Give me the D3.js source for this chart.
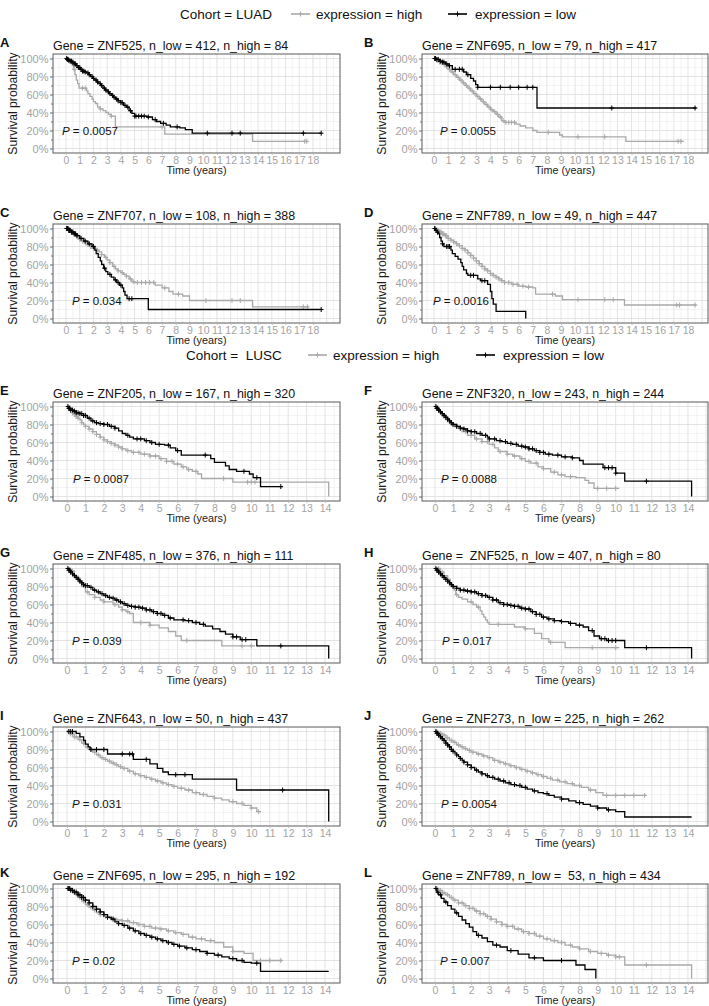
<!DOCTYPE html>
<html><head><meta charset="utf-8">
<script src="https://cdn.jsdelivr.net/npm/d3@7"></script>
<style>
body{margin:0;background:#fff;}
svg text{font-family:"Liberation Sans",Arial,Helvetica,sans-serif;}
</style></head><body>
<svg id="chart" width="709" height="1006" xmlns="http://www.w3.org/2000/svg"></svg>
<script>
// ---------------- DATA ----------------
const cohorts = ["LUAD", "LUSC"];
const panelIds = ["A","B","C","D","E","F","G","H","I","J","K","L"];
const titles = [
 "Gene = ZNF525, n_low = 412, n_high = 84",
 "Gene = ZNF695, n_low = 79, n_high = 417",
 "Gene = ZNF707, n_low = 108, n_high = 388",
 "Gene = ZNF789, n_low = 49, n_high = 447",
 "Gene = ZNF205, n_low = 167, n_high = 320",
 "Gene = ZNF320, n_low = 243, n_high = 244",
 "Gene = ZNF485, n_low = 376, n_high = 111",
 "Gene =  ZNF525, n_low = 407, n_high = 80",
 "Gene = ZNF643, n_low = 50, n_high = 437",
 "Gene = ZNF273, n_low = 225, n_high = 262",
 "Gene = ZNF695, n_low = 295, n_high = 192",
 "Gene = ZNF789, n_low =  53, n_high = 434"
];
const pValues = ["0.0057","0.0055","0.034","0.0016","0.0087","0.0088","0.039","0.017","0.031","0.0054","0.02","0.007"];
const luadTicks = [0,1,2,3,4,5,6,7,8,9,10,11,12,13,14,15,16,17,18];
const luscTicks = [0,1,2,3,4,5,6,7,8,9,10,11,12,13,14];
const yTicks = [0,0.2,0.4,0.6,0.8,1];

// Kaplan-Meier steps [time (years), survival]
const A_low = [[0,1],[0.1,0.99],[0.2,0.98],[0.3,0.97],[0.45,0.96],[0.6,0.94],[0.75,0.92],[0.9,0.90],[1.05,0.88],[1.2,0.86],[1.35,0.85],[1.5,0.84],[1.65,0.82],[1.8,0.80],[1.95,0.78],[2.1,0.76],[2.25,0.74],[2.4,0.72],[2.55,0.70],[2.7,0.67],[2.85,0.65],[3.0,0.63],[3.15,0.61],[3.3,0.59],[3.45,0.57],[3.6,0.55],[3.8,0.53],[4.0,0.51],[4.2,0.48],[4.4,0.46],[4.6,0.42],[4.8,0.39],[5.0,0.36],[5.9,0.35],[6.3,0.32],[6.6,0.30],[6.9,0.28],[7.3,0.26],[7.6,0.24],[8.3,0.23],[8.7,0.21],[9.2,0.17],[18.6,0.17]];
const A_lowC = [0.05,0.1,0.15,0.2,0.3,0.4,0.5,0.6,0.7,0.8,0.9,1.0,1.1,1.2,1.3,1.4,1.6,1.7,1.9,2.0,2.2,2.3,2.5,2.6,2.8,2.9,3.1,3.2,3.4,3.5,3.7,3.8,4.0,4.1,4.3,4.5,4.7,5.0,5.1,5.3,5.5,5.7,6.0,6.5,7.1,8.1,10.3,12.1,12.7,17.3,18.6];
const A_high = [[0,1],[0.2,0.98],[0.35,0.95],[0.45,0.92],[0.55,0.88],[0.65,0.82],[0.75,0.76],[0.85,0.72],[0.95,0.67],[1.5,0.64],[1.6,0.61],[1.75,0.58],[1.9,0.55],[2.0,0.52],[2.15,0.50],[2.3,0.46],[2.5,0.44],[2.7,0.42],[2.9,0.40],[3.1,0.38],[3.3,0.36],[3.6,0.24],[7.2,0.16],[13.6,0.08],[17.6,0.08]];
const A_highC = [0.3,0.6,1.2,1.4,2.5,3.3,7.0,17.4,17.55];

const B_low = [[0,1],[0.2,0.99],[0.4,0.97],[0.6,0.96],[0.8,0.94],[1.0,0.92],[1.3,0.88],[2.1,0.85],[2.3,0.82],[2.6,0.78],[2.8,0.75],[2.95,0.71],[3.1,0.68],[7.3,0.45],[18.6,0.45]];
const B_lowC = [0.05,0.1,0.2,0.3,0.45,0.6,0.7,0.9,1.1,1.5,1.8,2.0,2.4,3.1,4.0,4.7,5.4,6.0,6.6,7.0,12.6,18.5];
const B_high = [[0,1],[0.2,0.98],[0.4,0.96],[0.6,0.94],[0.8,0.91],[1.0,0.88],[1.2,0.85],[1.4,0.82],[1.6,0.79],[1.8,0.76],[2.0,0.73],[2.2,0.70],[2.4,0.67],[2.6,0.64],[2.8,0.61],[3.0,0.58],[3.2,0.55],[3.4,0.52],[3.6,0.49],[3.8,0.46],[4.0,0.43],[4.2,0.41],[4.4,0.38],[4.6,0.35],[4.8,0.31],[5.0,0.29],[5.8,0.27],[6.1,0.25],[6.5,0.23],[7.0,0.20],[7.3,0.18],[8.9,0.15],[9.1,0.13],[13.6,0.08],[17.7,0.08]];
const B_highC = [0.1,0.2,0.3,0.4,0.5,0.7,0.9,1.1,1.3,1.5,1.7,1.9,2.1,2.3,2.5,2.7,2.9,3.1,3.3,3.5,3.7,3.9,4.1,4.3,4.5,4.7,4.9,5.1,5.3,5.5,5.7,8.1,10.2,12.1,17.3,17.5];

const C_low = [[0,1],[0.2,0.98],[0.4,0.96],[0.6,0.94],[0.8,0.92],[1.0,0.89],[1.3,0.86],[1.6,0.83],[1.9,0.80],[2.1,0.76],[2.2,0.72],[2.35,0.68],[2.5,0.64],[2.6,0.60],[2.75,0.56],[2.9,0.52],[3.05,0.49],[3.3,0.46],[3.5,0.43],[3.7,0.40],[3.9,0.37],[4.1,0.34],[4.2,0.30],[4.3,0.26],[4.45,0.22],[6.0,0.10],[18.6,0.10]];
const C_lowC = [0.05,0.1,0.15,0.2,0.25,0.3,0.4,0.5,0.6,0.7,0.8,1.1,1.4,1.7,2.0,2.8,3.2,3.6,3.8,4.0,4.6,4.8,18.6];
const C_high = [[0,1],[0.2,0.98],[0.4,0.96],[0.6,0.94],[0.8,0.91],[1.0,0.88],[1.2,0.86],[1.4,0.84],[1.6,0.82],[1.8,0.80],[2.0,0.78],[2.2,0.76],[2.4,0.74],[2.6,0.71],[2.8,0.68],[3.0,0.65],[3.2,0.62],[3.4,0.58],[3.6,0.55],[3.8,0.53],[4.0,0.51],[4.2,0.49],[4.4,0.47],[4.6,0.44],[4.8,0.41],[5.0,0.40],[6.5,0.37],[7.0,0.34],[7.5,0.30],[7.8,0.27],[8.5,0.25],[9.0,0.20],[13.6,0.13],[17.7,0.13]];
const C_highC = [0.1,0.2,0.3,0.4,0.5,0.6,0.7,0.8,0.9,1.0,1.2,1.4,1.6,1.8,2.0,2.3,2.6,2.9,3.2,3.5,3.8,4.1,4.4,4.7,4.9,5.2,5.5,5.8,6.1,6.4,7.2,8.2,10.2,12.1,12.7,17.3,17.6];

const D_low = [[0,1],[0.1,0.98],[0.2,0.96],[0.3,0.94],[0.4,0.90],[0.5,0.86],[0.6,0.83],[0.7,0.80],[1.2,0.76],[1.3,0.72],[1.5,0.69],[1.7,0.66],[1.9,0.62],[2.0,0.58],[2.1,0.54],[2.3,0.50],[2.4,0.48],[3.1,0.44],[3.3,0.42],[3.8,0.38],[4.0,0.30],[4.1,0.22],[4.2,0.16],[4.4,0.08],[6.5,0.08],[6.5,0]];
const D_lowC = [0.05,0.15,0.25,0.6,0.9,1.0,1.1,2.6,2.8,3.4,3.6];
const D_high = [[0,1],[0.2,0.98],[0.4,0.96],[0.6,0.94],[0.8,0.92],[1.0,0.89],[1.2,0.87],[1.4,0.85],[1.6,0.83],[1.8,0.81],[2.0,0.78],[2.2,0.76],[2.4,0.73],[2.6,0.70],[2.8,0.67],[3.0,0.64],[3.2,0.61],[3.4,0.58],[3.6,0.55],[3.8,0.53],[4.0,0.50],[4.2,0.48],[4.4,0.46],[4.6,0.44],[4.8,0.42],[5.0,0.40],[5.5,0.38],[6.0,0.36],[6.5,0.35],[7.0,0.34],[7.2,0.27],[8.6,0.25],[9.1,0.21],[13.5,0.15],[18.6,0.15]];
const D_highC = [0.1,0.2,0.3,0.4,0.5,0.6,0.7,0.8,0.9,1.0,1.2,1.4,1.6,1.8,2.0,2.2,2.4,2.6,2.8,3.0,3.2,3.4,3.6,3.8,4.0,4.2,4.4,4.6,4.8,5.0,5.3,5.6,5.9,6.3,6.7,8.4,10.2,12.1,12.7,17.2,17.4,18.5];

const E_low = [[0,1],[0.1,0.98],[0.2,0.96],[0.35,0.95],[0.5,0.93],[0.7,0.92],[0.9,0.90],[1.1,0.87],[1.3,0.84],[1.5,0.82],[1.7,0.81],[2.0,0.80],[2.3,0.78],[2.6,0.76],[2.8,0.73],[3.0,0.70],[3.2,0.68],[3.4,0.66],[3.6,0.64],[4.2,0.62],[4.5,0.60],[4.8,0.58],[5.3,0.57],[5.6,0.54],[5.9,0.51],[6.2,0.46],[7.8,0.42],[8.0,0.38],[8.6,0.34],[8.8,0.30],[9.2,0.28],[9.9,0.25],[10.1,0.21],[10.5,0.11],[11.7,0.11]];
const E_lowC = [0.05,0.1,0.15,0.2,0.3,0.4,0.5,0.6,0.7,0.8,0.9,1.0,1.2,1.4,1.6,1.8,2.0,2.2,2.4,2.6,3.3,3.8,4.0,4.3,4.6,5.0,5.5,6.0,7.5,9.6,10.3,11.6];
const E_high = [[0,1],[0.1,0.98],[0.2,0.96],[0.3,0.93],[0.4,0.91],[0.5,0.89],[0.6,0.87],[0.7,0.85],[0.8,0.82],[0.9,0.80],[1.0,0.78],[1.2,0.75],[1.4,0.72],[1.6,0.69],[1.8,0.66],[2.0,0.63],[2.2,0.61],[2.4,0.59],[2.6,0.57],[2.8,0.55],[3.0,0.53],[3.2,0.51],[3.5,0.49],[4.0,0.47],[4.5,0.45],[5.0,0.42],[5.4,0.39],[5.8,0.36],[6.2,0.33],[6.5,0.30],[6.8,0.28],[7.1,0.25],[7.3,0.20],[9.0,0.16],[14.2,0.16],[14.2,0]];
const E_highC = [0.1,0.2,0.3,0.4,0.5,0.6,0.8,1.0,1.2,1.4,1.6,1.8,2.0,2.2,2.4,2.6,2.8,3.0,3.3,3.6,3.9,4.2,4.5,4.8,5.1,5.4,5.7,6.0,6.3,6.6,7.0,8.5,9.8,10.0,10.2];

const F_low = [[0,1],[0.1,0.98],[0.2,0.96],[0.3,0.94],[0.4,0.92],[0.5,0.90],[0.6,0.88],[0.7,0.86],[0.8,0.84],[0.9,0.82],[1.0,0.80],[1.2,0.78],[1.4,0.76],[1.6,0.75],[1.8,0.73],[2.0,0.72],[2.3,0.70],[2.6,0.68],[2.9,0.66],[3.0,0.64],[3.4,0.62],[3.7,0.61],[4.0,0.59],[4.3,0.58],[4.6,0.56],[4.9,0.55],[5.2,0.53],[5.5,0.51],[5.8,0.49],[6.1,0.47],[6.5,0.46],[7.0,0.44],[7.6,0.43],[8.0,0.40],[8.2,0.36],[9.3,0.32],[10.0,0.26],[10.5,0.17],[14.2,0.17],[14.2,0]];
const F_lowC = [0.05,0.1,0.15,0.2,0.3,0.4,0.5,0.6,0.7,0.8,0.9,1.0,1.2,1.4,1.6,1.8,2.0,2.2,2.5,2.8,3.0,3.3,3.6,3.9,4.2,4.5,4.8,5.0,5.2,5.4,5.6,5.8,6.0,6.3,6.8,7.2,7.6,9.4,9.6,9.8,10.0,11.7];
const F_high = [[0,1],[0.1,0.98],[0.2,0.96],[0.3,0.94],[0.4,0.92],[0.5,0.89],[0.6,0.87],[0.7,0.85],[0.8,0.83],[0.9,0.81],[1.0,0.79],[1.2,0.76],[1.5,0.72],[1.8,0.68],[2.2,0.64],[2.6,0.61],[3.0,0.58],[3.3,0.54],[3.5,0.50],[4.0,0.47],[4.3,0.45],[4.7,0.42],[5.0,0.39],[5.3,0.37],[5.7,0.33],[6.0,0.31],[6.4,0.27],[6.8,0.24],[7.2,0.22],[7.8,0.21],[8.3,0.18],[8.5,0.15],[8.8,0.09],[10.2,0.09]];
const F_highC = [0.1,0.2,0.3,0.5,0.7,0.9,1.1,1.4,1.7,2.0,2.3,2.6,2.9,3.2,3.6,4.0,4.4,4.8,5.2,5.6,6.0,6.6,7.0,7.5,9.0,9.5,10.0];

const G_low = [[0,1],[0.1,0.98],[0.2,0.96],[0.3,0.94],[0.4,0.92],[0.5,0.90],[0.6,0.88],[0.7,0.86],[0.8,0.84],[0.9,0.82],[1.0,0.81],[1.2,0.79],[1.4,0.76],[1.6,0.74],[1.8,0.72],[2.0,0.70],[2.2,0.68],[2.4,0.67],[2.6,0.65],[2.8,0.63],[3.0,0.61],[3.2,0.59],[3.4,0.58],[3.7,0.57],[4.0,0.56],[4.3,0.54],[4.6,0.52],[4.9,0.50],[5.2,0.48],[5.5,0.45],[5.8,0.43],[6.4,0.42],[6.8,0.40],[7.2,0.38],[7.5,0.36],[7.9,0.33],[8.3,0.30],[8.6,0.27],[9.0,0.24],[9.4,0.21],[10.3,0.14],[14.2,0.14],[14.2,0]];
const G_lowC = [0.05,0.1,0.15,0.2,0.3,0.4,0.5,0.6,0.7,0.8,0.9,1.0,1.1,1.3,1.5,1.7,1.9,2.1,2.3,2.5,2.7,2.9,3.1,3.3,3.5,3.7,3.9,4.1,4.3,4.5,4.7,4.9,5.1,5.3,5.6,6.3,6.6,7.0,7.4,9.0,9.2,9.5,9.7,11.6];
const G_high = [[0,1],[0.2,0.97],[0.4,0.93],[0.5,0.90],[0.65,0.85],[0.8,0.80],[1.0,0.74],[1.2,0.71],[1.5,0.68],[1.8,0.65],[2.0,0.63],[2.5,0.60],[2.8,0.57],[3.0,0.54],[3.2,0.52],[3.4,0.50],[3.6,0.40],[4.5,0.37],[5.0,0.34],[5.5,0.30],[5.9,0.25],[6.2,0.20],[8.4,0.14],[10.2,0.14]];
const G_highC = [0.3,0.6,1.1,1.5,2.0,2.6,3.0,3.3,4.0,4.5,6.5,9.5,10.0];

const H_low = [[0,1],[0.1,0.98],[0.2,0.96],[0.3,0.94],[0.4,0.92],[0.5,0.90],[0.6,0.88],[0.7,0.86],[0.8,0.84],[0.9,0.82],[1.0,0.80],[1.2,0.78],[1.4,0.76],[1.7,0.75],[2.0,0.74],[2.3,0.72],[2.6,0.70],[2.9,0.68],[3.2,0.65],[3.5,0.62],[3.8,0.60],[4.1,0.59],[4.4,0.58],[4.7,0.56],[5.0,0.55],[5.3,0.52],[5.6,0.49],[5.9,0.46],[6.2,0.44],[6.6,0.42],[7.0,0.41],[7.4,0.39],[7.8,0.37],[8.2,0.35],[8.5,0.31],[8.8,0.25],[9.1,0.22],[9.5,0.20],[10.5,0.12],[14.2,0.12],[14.2,0]];
const H_lowC = [0.05,0.1,0.15,0.2,0.3,0.4,0.5,0.6,0.7,0.8,0.9,1.0,1.2,1.4,1.6,1.8,2.0,2.2,2.4,2.6,2.8,3.0,3.2,3.4,3.6,3.8,4.0,4.2,4.4,4.6,4.8,5.0,5.2,5.4,5.6,5.8,6.0,6.3,6.6,7.0,7.5,8.0,8.7,9.2,9.4,9.6,9.8,10.0,11.7];
const H_high = [[0,1],[0.3,0.96],[0.5,0.92],[0.7,0.88],[0.85,0.84],[0.95,0.80],[1.05,0.76],[1.15,0.71],[1.3,0.68],[1.5,0.66],[1.8,0.63],[2.1,0.60],[2.3,0.57],[2.5,0.53],[2.6,0.49],[2.7,0.46],[2.8,0.43],[2.9,0.40],[3.0,0.38],[4.4,0.35],[5.0,0.33],[5.5,0.28],[5.9,0.22],[6.3,0.18],[7.2,0.12],[10.2,0.12]];
const H_highC = [0.2,0.4,1.2,2.0,2.4,3.5,5.0,6.4,8.7,10.0];

const I_low = [[0,1],[0.5,0.98],[0.7,0.94],[0.9,0.90],[1.0,0.86],[1.15,0.83],[1.25,0.80],[2.2,0.75],[3.6,0.69],[4.5,0.64],[4.9,0.59],[5.2,0.55],[5.5,0.52],[6.8,0.47],[9.2,0.35],[14.2,0.35],[14.2,0]];
const I_lowC = [0.1,0.2,0.3,1.3,1.6,2.0,3.0,3.4,3.55,4.3,5.9,6.4,11.7];
const I_high = [[0,1],[0.2,0.97],[0.4,0.94],[0.6,0.91],[0.8,0.87],[1.0,0.83],[1.2,0.80],[1.4,0.77],[1.6,0.74],[1.8,0.71],[2.0,0.69],[2.2,0.67],[2.4,0.65],[2.6,0.63],[2.8,0.61],[3.0,0.59],[3.3,0.56],[3.6,0.53],[3.9,0.51],[4.2,0.49],[4.5,0.47],[4.8,0.45],[5.1,0.43],[5.4,0.41],[5.7,0.39],[6.0,0.37],[6.4,0.35],[6.8,0.32],[7.2,0.30],[7.6,0.28],[8.0,0.26],[8.4,0.24],[8.8,0.22],[9.2,0.20],[9.6,0.18],[10.0,0.15],[10.3,0.11],[10.5,0.11]];
const I_highC = [0.1,0.2,0.3,0.4,0.5,0.7,0.9,1.1,1.3,1.5,1.7,1.9,2.1,2.3,2.5,2.7,2.9,3.1,3.4,3.7,4.0,4.3,4.6,4.9,5.2,5.5,5.8,6.2,6.6,7.0,7.4,8.0,9.0,9.5,10.0,10.4];

const J_low = [[0,1],[0.1,0.98],[0.2,0.96],[0.3,0.94],[0.4,0.92],[0.5,0.90],[0.6,0.87],[0.7,0.85],[0.8,0.83],[0.9,0.80],[1.0,0.78],[1.1,0.76],[1.2,0.74],[1.3,0.72],[1.4,0.70],[1.5,0.68],[1.6,0.66],[1.8,0.63],[2.0,0.60],[2.2,0.57],[2.4,0.55],[2.6,0.53],[2.8,0.51],[3.0,0.49],[3.3,0.47],[3.6,0.45],[3.9,0.43],[4.2,0.41],[4.5,0.40],[4.8,0.38],[5.1,0.36],[5.4,0.34],[5.7,0.32],[6.0,0.31],[6.3,0.29],[6.6,0.27],[7.0,0.25],[7.4,0.23],[7.8,0.21],[8.2,0.19],[8.6,0.17],[9.0,0.15],[9.5,0.13],[10.0,0.11],[10.5,0.05],[14.2,0.05]];
const J_lowC = [0.05,0.1,0.15,0.2,0.3,0.4,0.5,0.6,0.7,0.8,0.9,1.0,1.2,1.4,1.6,1.8,2.0,2.3,2.6,2.9,3.2,3.5,3.8,4.1,4.4,4.7,5.0,5.5,6.2,7.0,8.0,9.0,9.6];
const J_high = [[0,1],[0.2,0.98],[0.4,0.96],[0.6,0.93],[0.8,0.90],[1.0,0.88],[1.2,0.85],[1.4,0.83],[1.6,0.81],[1.8,0.79],[2.0,0.77],[2.3,0.75],[2.6,0.73],[2.9,0.71],[3.2,0.68],[3.5,0.66],[3.8,0.64],[4.1,0.62],[4.4,0.60],[4.7,0.58],[5.0,0.56],[5.3,0.54],[5.6,0.52],[5.9,0.50],[6.2,0.48],[6.5,0.46],[6.9,0.44],[7.3,0.42],[7.7,0.40],[8.1,0.38],[8.5,0.35],[8.9,0.32],[9.3,0.29],[11.7,0.29]];
const J_highC = [0.1,0.2,0.3,0.4,0.5,0.7,0.9,1.1,1.3,1.5,1.7,1.9,2.1,2.4,2.7,3.0,3.3,3.6,3.9,4.2,4.5,4.8,5.1,5.4,5.7,6.0,6.4,6.8,7.2,7.6,8.0,8.6,9.5,10.0,10.5,11.0,11.6];

const K_low = [[0,1],[0.2,0.98],[0.4,0.96],[0.6,0.93],[0.8,0.90],[1.0,0.87],[1.2,0.84],[1.4,0.80],[1.6,0.77],[1.8,0.74],[2.0,0.71],[2.2,0.68],[2.4,0.66],[2.6,0.63],[2.8,0.61],[3.0,0.59],[3.3,0.56],[3.6,0.53],[3.9,0.50],[4.2,0.48],[4.5,0.46],[4.8,0.44],[5.1,0.42],[5.4,0.40],[5.7,0.38],[6.0,0.36],[6.4,0.34],[6.8,0.32],[7.2,0.30],[7.6,0.28],[8.0,0.26],[8.4,0.24],[8.8,0.22],[9.2,0.20],[9.6,0.18],[10.0,0.17],[10.5,0.08],[14.2,0.08]];
const K_lowC = [0.05,0.1,0.15,0.2,0.3,0.4,0.5,0.6,0.7,0.8,0.9,1.0,1.2,1.4,1.6,1.8,2.0,2.2,2.5,2.8,3.1,3.4,3.7,4.0,4.3,4.6,4.9,5.2,5.5,5.8,6.1,6.5,7.0,7.6,8.2,9.0,9.5,10.3];
const K_high = [[0,1],[0.2,0.97],[0.4,0.94],[0.6,0.90],[0.8,0.86],[1.0,0.82],[1.2,0.79],[1.4,0.76],[1.6,0.73],[1.8,0.71],[2.0,0.69],[2.3,0.67],[2.6,0.65],[3.0,0.64],[3.4,0.62],[3.8,0.60],[4.2,0.58],[4.6,0.56],[5.0,0.55],[5.4,0.53],[5.8,0.51],[6.2,0.49],[6.6,0.46],[7.0,0.44],[7.5,0.42],[8.0,0.40],[8.5,0.35],[9.0,0.30],[9.6,0.28],[10.1,0.20],[11.7,0.20]];
const K_highC = [0.1,0.3,0.5,0.7,0.9,1.1,1.3,1.5,1.8,2.1,2.4,2.7,3.0,3.3,3.6,3.9,4.2,4.5,4.8,5.1,5.5,5.9,6.3,6.8,7.3,7.8,9.0,10.5,11.0,11.6];

const L_low = [[0,1],[0.1,0.96],[0.2,0.93],[0.35,0.89],[0.5,0.85],[0.7,0.81],[0.9,0.77],[1.1,0.73],[1.3,0.69],[1.5,0.65],[1.7,0.61],[1.9,0.57],[2.1,0.52],[2.3,0.48],[2.6,0.45],[2.9,0.41],[3.2,0.37],[3.6,0.35],[4.0,0.31],[4.6,0.27],[5.2,0.23],[6.0,0.20],[7.8,0.15],[8.3,0.10],[8.9,0.10],[8.9,0]];
const L_lowC = [0.05,0.15,0.3,0.6,1.2,2.4,3.4,4.2,5.5,7.0];
const L_high = [[0,1],[0.2,0.98],[0.4,0.95],[0.6,0.93],[0.8,0.90],[1.0,0.87],[1.3,0.84],[1.6,0.81],[1.9,0.78],[2.2,0.75],[2.5,0.72],[2.8,0.69],[3.1,0.66],[3.4,0.63],[3.7,0.60],[4.0,0.58],[4.4,0.55],[4.8,0.52],[5.2,0.50],[5.6,0.47],[6.0,0.44],[6.4,0.42],[6.8,0.40],[7.2,0.37],[7.6,0.35],[8.0,0.33],[8.5,0.30],[9.0,0.28],[9.5,0.26],[10.0,0.24],[10.5,0.15],[14.2,0.15],[14.2,0]];
const L_highC = [0.1,0.2,0.3,0.4,0.5,0.7,0.9,1.1,1.3,1.5,1.7,1.9,2.1,2.3,2.5,2.7,2.9,3.1,3.4,3.7,4.0,4.3,4.6,4.9,5.2,5.5,5.8,6.2,6.6,7.0,7.5,8.0,8.6,9.2,9.6,10.0,10.2,11.7];

// ---------------- LAYOUT ----------------
const FONT = '"Liberation Sans", Arial, Helvetica, sans-serif';
const COL_X = {L:[53,340], R:[422,708]};
const ROW_TOP = [54, 224, 402, 564, 727, 884];
const PANEL_H = 99;
const XSC = {LUAD:{L:{zero:66,k:13.72}, R:{zero:434,k:14.11}},
             LUSC:{L:{zero:67,k:18.43}, R:{zero:435,k:18.07}}};
const pOffset = [9,18,19,11,20,19,19,20,19,19,19,18];
const HIGH_COL = "#a9a9a9", LOW_COL = "#000000";

const seriesLow = [A_low,B_low,C_low,D_low,E_low,F_low,G_low,H_low,I_low,J_low,K_low,L_low];
const seriesLowC = [A_lowC,B_lowC,C_lowC,D_lowC,E_lowC,F_lowC,G_lowC,H_lowC,I_lowC,J_lowC,K_lowC,L_lowC];
const seriesHigh = [A_high,B_high,C_high,D_high,E_high,F_high,G_high,H_high,I_high,J_high,K_high,L_high];
const seriesHighC = [A_highC,B_highC,C_highC,D_highC,E_highC,F_highC,G_highC,H_highC,I_highC,J_highC,K_highC,L_highC];

const svg = d3.select("#chart");
svg.append("rect").attr("width",709).attr("height",1006).attr("fill","#fff");

function survAt(curve, t){
  let v = curve[0][1];
  for (let i=0;i<curve.length;i++){
    const isFinalDrop = i === curve.length-1 && i > 0 && curve[i][0] === curve[i-1][0];
    if (curve[i][0] <= t && !isFinalDrop) v = curve[i][1];
    else if (curve[i][0] > t) break;
  }
  return v;
}

function drawLegend(y, cohortText, xs){
  const g = svg.append("g").attr("font-family", FONT).attr("font-size", 13.5);
  g.append("text").attr("x", xs[0]).attr("y", y).attr("fill","#111").attr("xml:space","preserve").style("white-space","pre").text(cohortText);
  [[xs[1], HIGH_COL, xs[2], "expression = high"], [xs[3], LOW_COL, xs[4], "expression = low"]].forEach(([kx, col, tx, label]) => {
    g.append("line").attr("x1", kx).attr("x2", kx+19).attr("y1", y-5).attr("y2", y-5).attr("stroke", col).attr("stroke-width", 1.6);
    g.append("path").attr("d", `M${kx+9.5},${y-7.5}V${y-2.5}M${kx+7.5},${y-5}H${kx+11.5}`).attr("stroke", col).attr("stroke-width",1);
    g.append("text").attr("x", tx).attr("y", y).attr("fill","#111").text(label);
  });
}
drawLegend(19, "Cohort = LUAD", [180, 291, 316, 448, 475]);
drawLegend(360, "Cohort =  LUSC", [186, 308, 333, 476, 503]);

panelIds.forEach((id, i) => {
  const cohort = i < 4 ? cohorts[0] : cohorts[1];
  const col = i % 2 === 0 ? "L" : "R";
  const row = i < 4 ? Math.floor(i/2) : 2 + Math.floor((i-4)/2);
  const [x0, x1] = COL_X[col];
  const top = ROW_TOP[row], bottom = top + PANEL_H;
  const sc = XSC[cohort][col];
  const x = d3.scaleLinear().domain([(x0-sc.zero)/sc.k, (x1-sc.zero)/sc.k]).range([x0, x1]);
  const y = d3.scaleLinear().domain([-0.05, 1.05]).range([bottom, top]);
  const ticks = cohort === "LUAD" ? luadTicks : luscTicks;
  const g = svg.append("g");

  // grid
  const xd = x.domain();
  const gridX = d3.range(Math.ceil(xd[0]*2)/2, xd[1], 0.5);
  g.append("g").selectAll("line").data(gridX).join("line")
    .attr("x1", d=>x(d)).attr("x2", d=>x(d)).attr("y1", top).attr("y2", bottom)
    .attr("stroke", d => Number.isInteger(d) ? "#dcdcdc" : "#ebebeb").attr("stroke-width", d => Number.isInteger(d) ? 0.8 : 0.6);
  const gridY = d3.range(0, 1.0001, 0.1);
  g.append("g").selectAll("line").data(gridY).join("line")
    .attr("x1", x0).attr("x2", x1).attr("y1", d=>y(d)).attr("y2", d=>y(d))
    .attr("stroke", (d,j) => j%2===0 ? "#dcdcdc" : "#ebebeb").attr("stroke-width", (d,j) => j%2===0 ? 0.8 : 0.6);

  // clip
  const clipId = "clip" + id;
  svg.append("clipPath").attr("id", clipId).append("rect").attr("x", x0).attr("y", top-2).attr("width", x1-x0).attr("height", PANEL_H+4);
  const cg = g.append("g").attr("clip-path", `url(#${clipId})`);
  const line = d3.line().curve(d3.curveStepAfter).x(d=>x(d[0])).y(d=>y(d[1]));
  [[seriesHigh[i], seriesHighC[i], HIGH_COL], [seriesLow[i], seriesLowC[i], LOW_COL]].forEach(([curve, cens, colr]) => {
    cg.append("path").attr("d", line(curve)).attr("fill","none").attr("stroke", colr).attr("stroke-width", 1.3);
    cg.append("g").selectAll("path").data(cens).join("path")
      .attr("d", t => { const cx = x(t), cy = y(survAt(curve, t)); return `M${cx-2.3},${cy}H${cx+2.3}M${cx},${cy-2.5}V${cy+2.5}`; })
      .attr("stroke", colr).attr("stroke-width", 1).attr("fill","none");
  });

  // border
  g.append("rect").attr("x", x0).attr("y", top).attr("width", x1-x0).attr("height", PANEL_H)
    .attr("fill","none").attr("stroke","#5a5a5a").attr("stroke-width",1);

  // y axis
  const ya = g.append("g").attr("transform", `translate(${x0},0)`)
    .call(d3.axisLeft(y).tickValues(yTicks).tickFormat(d => Math.round(d*100) + "%").tickSize(3).tickPadding(1.5));
  ya.select(".domain").remove();
  ya.selectAll("line").attr("stroke","#666");
  ya.selectAll("text").attr("font-family", FONT).attr("font-size", 11).attr("fill","#a3a3a3");
  const yam = g.append("g").attr("transform", `translate(${x0},0)`)
    .call(d3.axisLeft(y).tickValues([0.1,0.3,0.5,0.7,0.9]).tickFormat("").tickSize(2));
  yam.select(".domain").remove();
  yam.selectAll("line").attr("stroke","#777");

  // x axis
  const xa = g.append("g").attr("transform", `translate(0,${bottom})`)
    .call(d3.axisBottom(x).tickValues(ticks).tickFormat(d3.format("d")).tickSize(2).tickPadding(1.5));
  xa.select(".domain").remove();
  xa.selectAll("line").attr("stroke","#bbb");
  xa.selectAll("text").attr("font-family", FONT).attr("font-size", 10.5).attr("fill","#a3a3a3");

  // axis titles
  g.append("text").attr("x", (x0+x1)/2).attr("y", bottom + 21).attr("text-anchor","middle")
    .attr("font-family", FONT).attr("font-size", 10.8).attr("fill","#222").text("Time (years)");
  g.append("text").attr("transform", `translate(${x0-40},${(top+bottom)/2}) rotate(-90)`)
    .attr("text-anchor","middle").attr("dominant-baseline","central")
    .attr("font-family", FONT).attr("font-size", 12.2).attr("fill","#1a1a1a").text("Survival probability");

  // title
  g.append("text").attr("x", x0).attr("y", top - 4).attr("font-family", FONT).attr("font-size", 12.4)
    .attr("fill","#111").attr("xml:space","preserve").style("white-space","pre").text(titles[i]);
  // panel letter
  g.append("text").attr("x", col === "L" ? 0 : 364).attr("y", top - 7).attr("font-family", FONT)
    .attr("font-size", 13).attr("font-weight","bold").attr("fill","#111").text(id);
  // p value
  const pt = g.append("text").attr("x", x0 + pOffset[i]).attr("y", y(0.2)).attr("dominant-baseline","central")
    .attr("font-family", FONT).attr("font-size", 11.5).attr("fill","#111");
  pt.append("tspan").attr("font-style","italic").text("P");
  pt.append("tspan").text(" = " + pValues[i]);
});
</script>
</body></html>
